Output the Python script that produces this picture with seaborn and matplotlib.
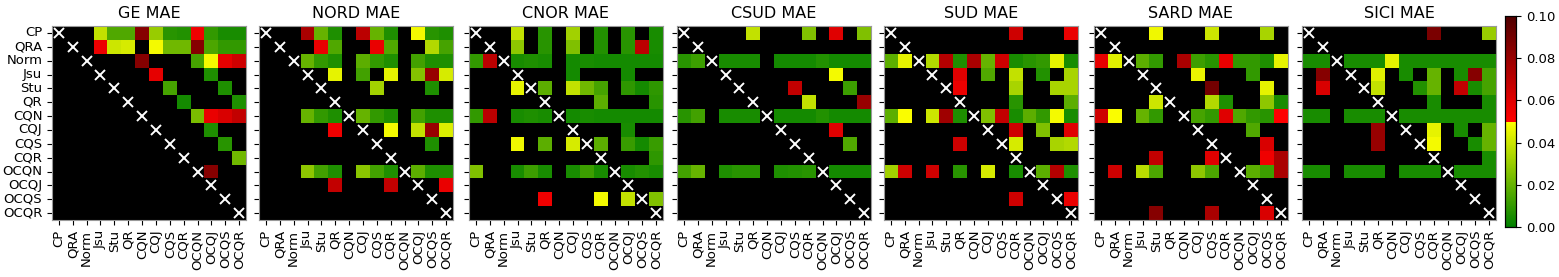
import numpy as np
import matplotlib
matplotlib.use("Agg")
import matplotlib.pyplot as plt
import seaborn as sns
from matplotlib.colors import LinearSegmentedColormap

_ = np.nan

labels = ["CP", "QRA", "Norm", "Jsu", "Stu", "QR", "CQN", "CQJ", "CQS", "CQR",
          "OCQN", "OCQJ", "OCQS", "OCQR"]
regions = ["GE", "NORD", "CNOR", "CSUD", "SUD", "SARD", "SICI"]

empty = [_] * 14

ge = [
    [_, _, _, .038, .016, .016, .085, .030, .008, .007, .055, .010, .005, .005],
    [_, _, _, .056, .040, .042, _, .048, .022, .022, .085, .015, .010, .010],
    [_, _, _, _, _, _, .085, _, _, _, .014, .048, .058, .065],
    [_, _, _, _, _, _, _, .058, _, _, _, .006, _, _],
    [_, _, _, _, _, _, _, _, .014, _, _, _, .006, _],
    [_, _, _, _, _, _, _, _, _, .004, _, _, _, .006],
    [_, _, _, _, _, _, _, _, _, _, .024, .057, .062, .068],
    [_, _, _, _, _, _, _, _, _, _, _, .006, _, _],
    [_, _, _, _, _, _, _, _, _, _, _, _, .008, _],
    [_, _, _, _, _, _, _, _, _, _, _, _, _, .022],
    [_, _, _, _, _, _, _, _, _, _, _, .085, _, _],
    empty, empty, empty,
]

nord = [
    [_, _, _, .075, .020, .006, _, .070, .020, .006, _, .048, .008, .006],
    [_, _, _, _, .057, .016, _, _, .057, .016, _, _, .035, .014],
    [_, _, _, .020, .010, .006, _, .018, .010, .006, _, .013, .006, .006],
    [_, _, _, _, _, .045, _, .013, _, .045, _, .026, .080, .042],
    [_, _, _, _, _, _, _, _, .032, _, _, _, .006, _],
    empty,
    [_, _, _, .020, .010, .006, _, .020, .010, .006, _, .013, .006, .006],
    [_, _, _, _, _, .055, _, _, _, .048, _, .038, .080, .043],
    [_, _, _, _, _, _, _, _, _, _, _, _, .006, _],
    empty,
    [_, _, _, .028, .013, .006, _, .027, .013, .006, _, .018, .006, .006],
    [_, _, _, _, _, .068, _, _, _, .068, _, _, _, .057],
    empty, empty,
]

cnor = [
    [_, _, _, .038, _, .008, _, .032, _, .007, _, .008, _, .005],
    [_, _, _, .028, _, .008, _, .025, _, .007, _, .008, .070, .005],
    [.010, .070, _, .005, .006, .005, _, .004, .005, .004, .004, .004, .004, .004],
    [_, _, _, _, _, _, _, .004, _, _, _, .004, _, _],
    [_, _, _, .045, _, .018, _, .038, .022, .014, _, .009, .004, .009],
    [_, _, _, _, _, _, _, _, _, .018, _, _, _, .008],
    [.010, .070, _, .005, .006, .005, _, .004, .005, .004, .004, .004, .004, .004],
    [_, _, _, _, _, _, _, _, _, _, _, .005, _, _],
    [_, _, _, .047, _, .018, _, .042, _, .018, _, .011, .004, .011],
    [_, _, _, _, _, _, _, _, _, _, _, _, _, .009],
    [.025, _, _, .005, .012, .005, _, .005, .012, .005, _, .005, .007, .005],
    empty,
    [_, _, _, _, _, .055, _, _, _, .048, _, .038, _, .025],
    empty,
]

csud = [
    [_, _, _, _, _, .038, _, _, _, .025, _, .060, _, .025],
    empty,
    [.008, .012, _, .005, .005, .005, _, .004, .004, .004, .007, .004, .004, .004],
    [_, _, _, _, _, _, _, _, _, _, _, .048, _, _],
    [_, _, _, _, _, _, _, _, .068, _, _, _, .012, _],
    [_, _, _, _, _, _, _, _, _, .038, _, _, _, .080],
    [.008, .013, _, .005, .005, .005, _, .004, .004, .004, .007, .004, .004, .004],
    [_, _, _, _, _, _, _, _, _, _, _, .060, _, _],
    [_, _, _, _, _, _, _, _, _, _, _, _, .016, _],
    empty,
    [.013, .020, _, .006, .008, .008, _, .006, .007, .008, _, .004, .004, .004],
    empty, empty, empty,
]

sud = [
    [_, _, _, _, _, _, _, _, _, .065, _, _, _, .057],
    empty,
    [.018, .045, _, .035, .072, .006, .075, .020, .065, .005, .008, .010, .045, .005],
    [_, _, _, _, _, .060, _, .016, _, .038, _, .007, _, .033],
    [_, _, _, _, _, .056, _, _, _, .033, _, _, .033, .033],
    [_, _, _, _, _, _, _, _, _, .008, _, _, _, .018],
    [.018, .049, _, .040, .078, .006, _, .025, .068, .005, .018, .010, .048, .005],
    [_, _, _, _, _, _, _, _, _, .065, _, .025, _, .060],
    [_, _, _, _, _, .065, _, _, _, .042, _, _, .033, .035],
    empty,
    [.032, .065, _, .065, _, .008, _, .042, _, .005, _, .018, .072, .006],
    empty,
    [_, _, _, _, _, _, _, _, _, .065, _, _, _, .057],
    empty,
]

sard = [
    [_, _, _, _, .047, _, _, _, .040, _, _, _, .033, _],
    empty,
    [.058, .044, _, .018, .010, _, .075, .012, .008, .057, .010, .010, .006, .045],
    [_, _, _, _, _, _, _, .046, _, _, _, .010, _, _],
    [_, _, _, _, _, _, _, _, .090, _, _, _, .045, _],
    [_, _, _, _, .040, _, _, _, .035, .006, _, _, .028, .005],
    [.065, .049, _, .020, .010, _, _, .014, .010, .060, .016, .010, .008, .050],
    [_, _, _, _, _, _, _, _, _, _, _, .016, _, _],
    [_, _, _, _, _, _, _, _, _, _, _, _, .062, _],
    [_, _, _, _, .068, _, _, _, .060, _, _, _, .055, .075],
    [_, .065, _, .036, .015, _, _, .028, .015, _, _, .018, .012, .075],
    empty, empty,
    [_, _, _, _, .085, _, _, _, .075, _, _, _, .062, _],
]

sici = [
    [_, _, _, _, _, _, _, _, _, .088, _, _, _, .030],
    empty,
    [.005, .005, _, .005, .005, .005, .045, .005, .005, .005, .005, .005, .005, .005],
    [_, .085, _, _, _, .044, _, .005, _, .020, _, .005, .085, .014],
    [_, .062, _, _, _, .038, _, _, .007, .020, _, .068, .005, .014],
    [_, _, _, _, _, _, _, _, _, .005, _, _, _, .005],
    [.005, .005, _, .005, .005, .005, _, .005, .005, .005, .005, .005, .005, .005],
    [_, _, _, _, _, .080, _, _, _, .045, _, .005, _, .020],
    [_, _, _, _, _, .080, _, _, _, .048, _, _, .005, .020],
    [_, _, _, _, _, _, _, _, _, _, _, _, _, .005],
    [.005, .005, _, .005, .005, .005, _, .005, .005, .005, _, .005, .005, .005],
    empty, empty, empty,
]

matrices = [ge, nord, cnor, csud, sud, sard, sici]

# verde -> giallo fino a 0.05, poi salto al rosso -> rosso scuro
cmap = LinearSegmentedColormap.from_list(
    "mae", [(0.0, "#008000"), (0.5, "#ffff00"), (0.5, "#ff0000"),
            (0.6, "#e00000"), (1.0, "#500000")])

W, H = 1559, 277
fig = plt.figure(figsize=(W / 100, H / 100), dpi=100)

lefts = [52, 259, 469, 677, 884, 1094, 1302]
size = 194
top = 26
cax = fig.add_axes([1505 / W, (H - 227) / H, 11 / W, 211 / H])

idx = np.arange(len(labels))
for i, (name, mat) in enumerate(zip(regions, matrices)):
    ax = fig.add_axes([lefts[i] / W, (H - top - size) / H, size / W, size / H])
    ax.set_facecolor("black")
    last = i == len(regions) - 1
    sns.heatmap(np.array(mat, dtype=float), ax=ax, cmap=cmap, vmin=0, vmax=0.1,
                xticklabels=labels, yticklabels=labels, square=False,
                cbar=last, cbar_ax=cax if last else None)
    ax.plot(idx + 0.5, idx + 0.5, "x", color="white", ms=6.5, mew=1.4)
    ax.set_title(f"{name} MAE", fontsize=11.5)
    ax.tick_params(axis="x", labelrotation=90, labelsize=9.5)
    ax.tick_params(axis="y", labelrotation=0, labelsize=9.5)
    if i > 0:
        ax.tick_params(labelleft=False)
    for sp in ax.spines.values():
        sp.set_visible(True)
        sp.set_color("#999999")
        sp.set_linewidth(0.8)

cax.tick_params(labelsize=9.5)
cax.set_yticks([0, 0.02, 0.04, 0.06, 0.08, 0.10])
cax.set_yticklabels(["0.00", "0.02", "0.04", "0.06", "0.08", "0.10"])
for sp in cax.spines.values():
    sp.set_visible(True)
    sp.set_linewidth(0.8)

fig.savefig("out.png", dpi=100)
